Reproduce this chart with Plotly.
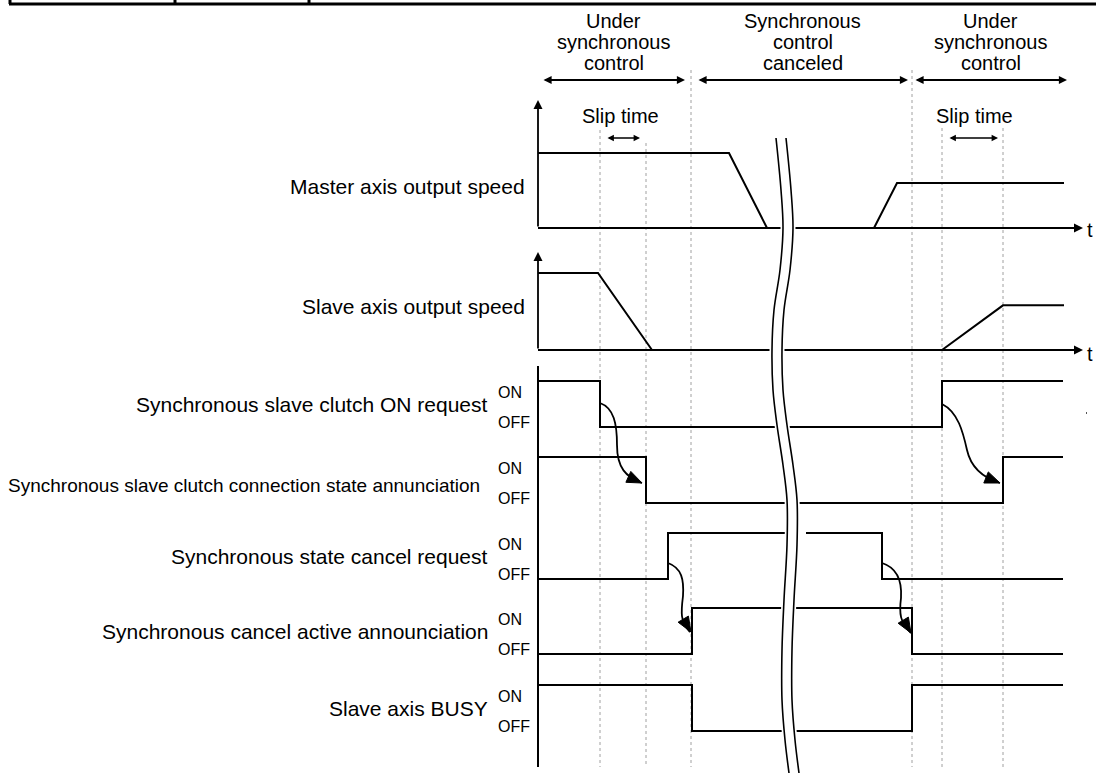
import math
import plotly.graph_objects as go

# ---------------- data ----------------
t_start, t_end = 538, 1064
# analog signals: time points and normalized speed
master_t_a = [538, 729, 767]
master_v_a = [1.0, 1.0, 0.0]
master_t_b = [874, 897, 1064]
master_v_b = [0.0, 0.6, 0.6]
slave_t_a = [538, 598, 652]
slave_v_a = [1.0, 1.0, 0.0]
slave_t_b = [942, 1003, 1064]
slave_v_b = [0.0, 0.58, 0.58]

# digital signals: label, initial state, edge times
digital_names = [
    "Synchronous slave clutch ON request",
    "Synchronous slave clutch connection state annunciation",
    "Synchronous state cancel request",
    "Synchronous cancel active announciation",
    "Slave axis BUSY",
]
digital_init = [1, 1, 0, 0, 1]
digital_edges = [[600, 942], [646, 1003], [668, 882], [692, 912], [692, 912]]

# timing markers (dotted lines)
marker_t = [600, 646, 691, 912, 942, 1003]
marker_top = [130, 143, 70, 70, 128, 128]

# phases
phase_labels = [["Under", "synchronous", "control"],
                ["Synchronous", "control", "canceled"],
                ["Under", "synchronous", "control"]]
phase_spans = [(542, 685), (697, 908), (914, 1067)]

# ---------------- layout constants ----------------
W, H = 1096, 773
FONT = "Liberation Sans, Arial, sans-serif"
LW = 2
master_base, master_h = 228, 75
slave_base, slave_h = 350, 77
dig_off = [427, 503, 579, 654, 731]
dig_h = 46

fig = go.Figure()

def add_line(x, y, width=LW, color="black", dash=None, shape="linear"):
    fig.add_trace(go.Scatter(x=x, y=y, mode="lines",
                             line=dict(color=color, width=width, dash=dash, shape=shape),
                             hoverinfo="skip", showlegend=False))

# analog signals
for tt, vv, base, h in [(master_t_a, master_v_a, master_base, master_h),
                        (master_t_b, master_v_b, master_base, master_h),
                        (slave_t_a, slave_v_a, slave_base, slave_h),
                        (slave_t_b, slave_v_b, slave_base, slave_h)]:
    add_line(tt, [base - v * h for v in vv])

# time axes baselines
add_line([t_start, 1076], [master_base, master_base])
add_line([t_start, 1076], [slave_base, slave_base])

# digital signals
for i, (init, edges) in enumerate(zip(digital_init, digital_edges)):
    state = init
    xs, ys = [t_start], [dig_off[i] - state * dig_h]
    for e in edges:
        xs += [e, e]
        ys += [dig_off[i] - state * dig_h]
        state = 1 - state
        ys += [dig_off[i] - state * dig_h]
    xs.append(1063)
    ys.append(dig_off[i] - state * dig_h)
    add_line(xs, ys)

# digital vertical axis
add_line([t_start, t_start], [366, 767])

# wavy break
brk_y = [138, 190, 228, 270, 310, 350, 390, 425, 465, 500, 545, 600, 650, 700, 740, 773]
brk_x = [776, 781, 783, 780, 774, 772, 773, 777, 783, 787, 787, 784, 782, 782, 785, 789]
gap = 10
fig.add_trace(go.Scatter(x=brk_x + [x + gap for x in brk_x[::-1]],
                         y=brk_y + brk_y[::-1], mode="lines", fill="toself",
                         fillcolor="white", line=dict(color="white", width=5, shape="spline"),
                         hoverinfo="skip", showlegend=False))
# slightly wider interruption of the cancel-request ON line
add_line([796, 806], [dig_off[2] - dig_h] * 2, width=4, color="white")
add_line(brk_x, brk_y, width=1.6, shape="spline")
add_line([x + gap for x in brk_x], brk_y, width=1.6, shape="spline")

shapes = []
for t, top in zip(marker_t, marker_top):
    shapes.append(dict(type="line", x0=t, x1=t, y0=top, y1=767, xref="x", yref="y",
                       line=dict(color="#a0a0a0", width=1, dash="dot"), layer="below"))
# top table border
shapes.append(dict(type="line", x0=9, x1=W, y0=4, y1=4, xref="x", yref="y",
                   line=dict(color="black", width=3)))
for xv in [10, 175, 309]:
    shapes.append(dict(type="line", x0=xv, x1=xv, y0=0, y1=4, xref="x", yref="y",
                       line=dict(color="black", width=3)))
shapes.append(dict(type="line", x0=1086, x1=1087, y0=413, y1=413, xref="x", yref="y",
                   line=dict(color="#555", width=2)))

# curved causal arrows
curves = [
    ("M 600 403 C 614 408 617 424 617 445 C 617 468 626 477 642 483", (642, 483), (-1, -0.45)),
    ("M 942 404 C 958 412 963 432 967 450 C 971 468 984 478 1000 483", (1000, 483), (-1, -0.4)),
    ("M 668 563 C 682 568 684 580 683 596 C 681 612 680 622 690 632", (691, 632), (-0.6, -1)),
    ("M 882 563 C 898 568 902 582 901 598 C 899 614 900 622 911 633", (911, 633), (-0.6, -1)),
]
for path, tip, d in curves:
    shapes.append(dict(type="path", path=path, xref="x", yref="y",
                       line=dict(color="black", width=1.8)))
    n = math.hypot(*d)
    ux, uy = d[0] / n, d[1] / n
    L, Wd = 15, 6
    bx, by = tip[0] + ux * L, tip[1] + uy * L
    px, py = -uy, ux
    p1 = (bx + px * Wd, by + py * Wd)
    p2 = (bx - px * Wd, by - py * Wd)
    shapes.append(dict(type="path",
                       path=f"M {tip[0]} {tip[1]} L {p1[0]:.1f} {p1[1]:.1f} L {p2[0]:.1f} {p2[1]:.1f} Z",
                       xref="x", yref="y", fillcolor="black", line=dict(color="black", width=1)))

ann = []
def arrow(x0, y0, x1, y1, both=False, width=1.8, size=1.0, head=2):
    ann.append(dict(x=x1, y=y1, ax=x0, ay=y0, xref="x", yref="y", axref="x", ayref="y",
                    text="", showarrow=True, arrowhead=head, startarrowhead=head,
                    arrowsize=size, startarrowsize=size, arrowwidth=width,
                    arrowside="end+start" if both else "end", arrowcolor="black",
                    standoff=0, startstandoff=0))

arrow(538, master_base, 538, 100)
arrow(538, slave_base, 538, 252)
arrow(1060, master_base, 1083, master_base)
arrow(1060, slave_base, 1083, slave_base)
for (a, b) in phase_spans:
    arrow(a, 80, b, 80, both=True, size=0.9)
arrow(606, 138, 640, 138, both=True, width=1.6, size=0.8)
arrow(948, 138, 998, 138, both=True, width=1.6, size=0.8)

def text(x, y, s, size=21, xanchor="center", yanchor="middle"):
    ann.append(dict(x=x, y=y, xref="x", yref="y", text=s, showarrow=False,
                    xanchor=xanchor, yanchor=yanchor,
                    font=dict(family=FONT, size=size, color="black")))

for lines, (a, b) in zip(phase_labels, phase_spans):
    for k, s in enumerate(lines):
        text((a + b) / 2, 21 + 21 * k, s, size=20)
text(620, 116, "Slip time", size=20)
text(974, 116, "Slip time", size=20)
text(1090, master_base + 2, "t", size=20)
text(1090, slave_base + 4, "t", size=20)
text(527, 186, "Master axis output speed", xanchor="right")
text(527, 306, "Slave axis output speed", xanchor="right")
for i, name in enumerate(digital_names):
    mid = dig_off[i] - dig_h / 2
    if i == 1:
        text(482, mid + 5, name, xanchor="right", size=19)
    else:
        text(490, mid, name, xanchor="right")
    text(496, dig_off[i] - dig_h + 11, "ON", size=16, xanchor="left")
    text(496, dig_off[i] - 5, "OFF", size=16, xanchor="left")

fig.update_layout(
    width=W, height=H, margin=dict(l=0, r=0, t=0, b=0),
    paper_bgcolor="white", plot_bgcolor="white",
    xaxis=dict(range=[0, W], visible=False, fixedrange=True),
    yaxis=dict(range=[H, 0], visible=False, fixedrange=True),
    shapes=shapes, annotations=ann, showlegend=False,
)
fig.write_html("out.html", config={"displayModeBar": False},
               post_script="document.body.style.margin='0';document.body.style.padding='0';")
